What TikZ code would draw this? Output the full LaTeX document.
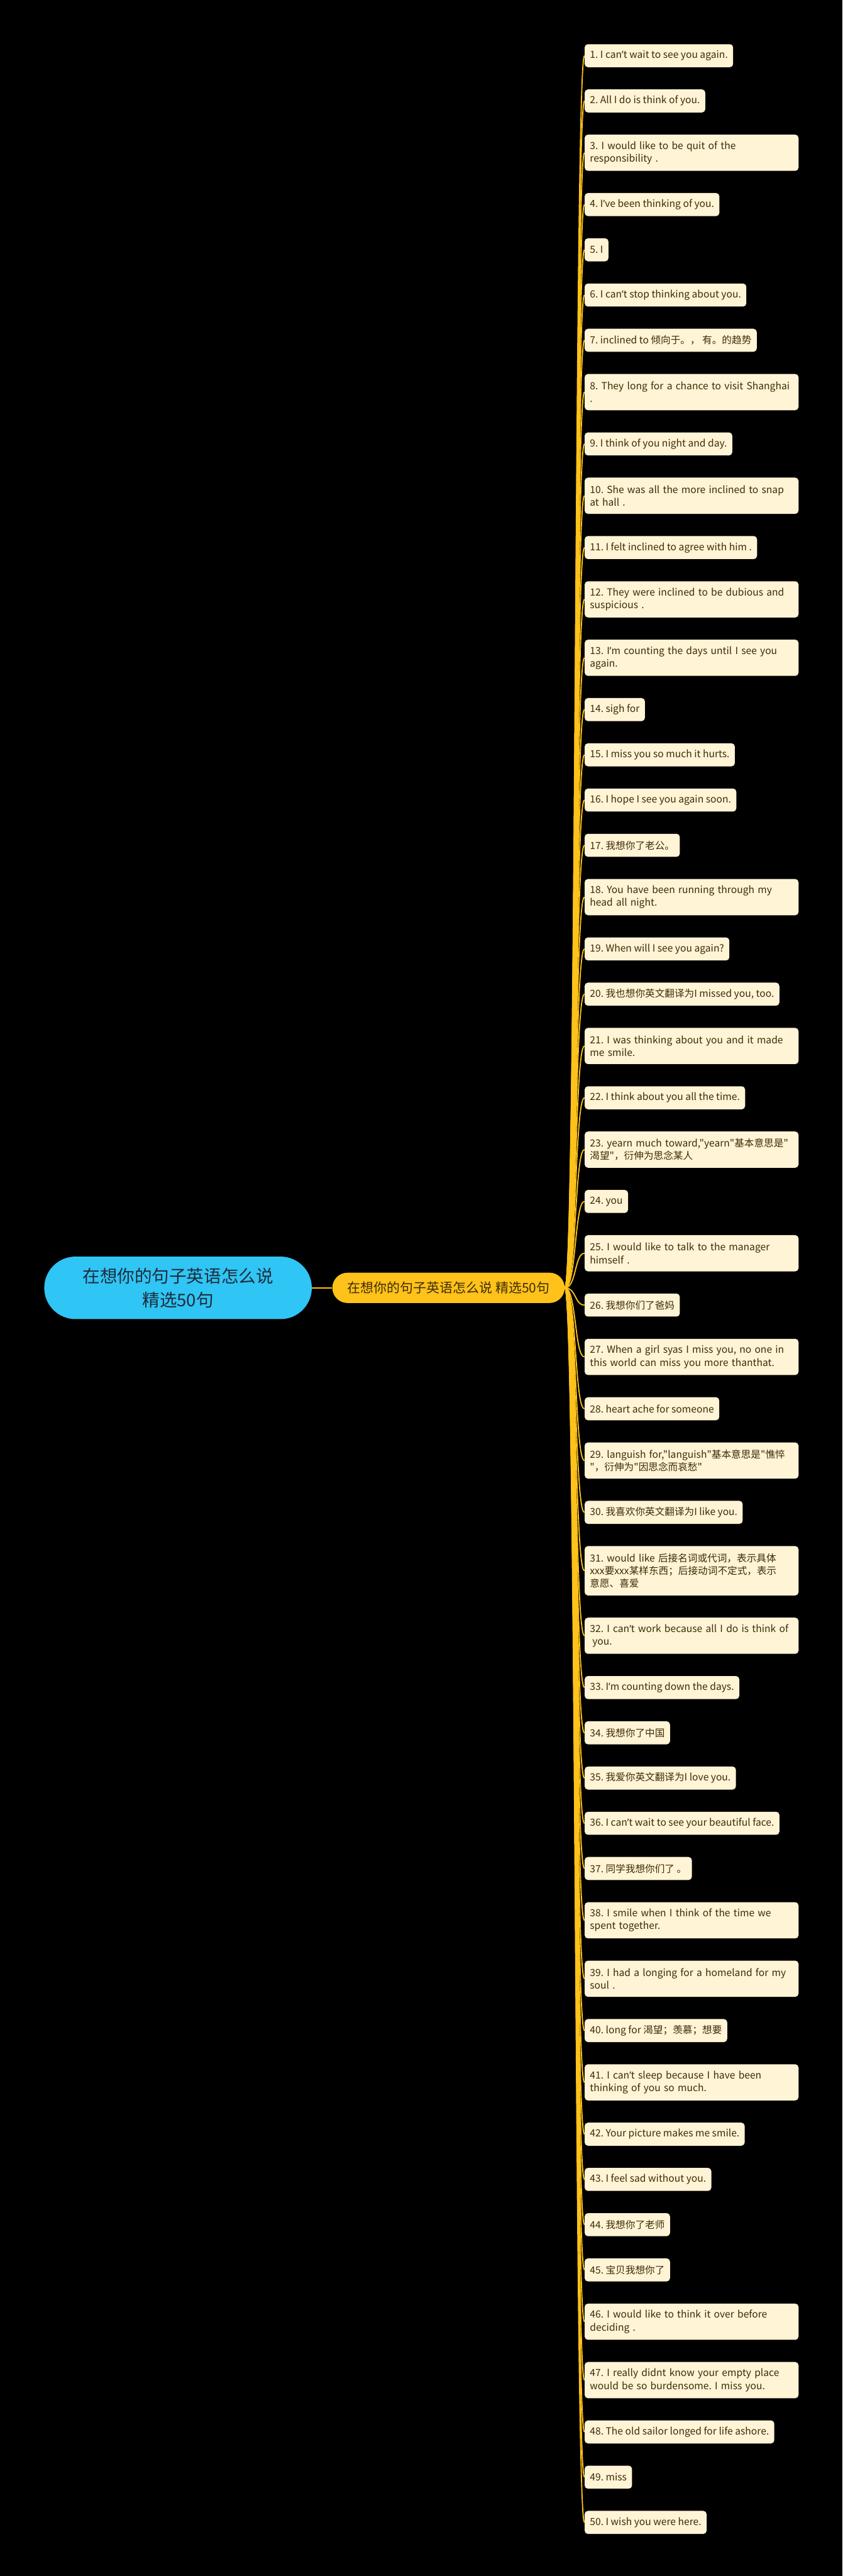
\documentclass[tikz,border=0pt]{standalone}
\usepackage{fontspec}
\setmainfont{Noto Sans CJK SC}[Ligatures=TeXOff]
\newfontfamily\latinfont{Noto Sans}
\usepackage{tikz}

\definecolor{rootblue}{HTML}{2FC5F5}
\definecolor{amber}{HTML}{FFC21A}
\definecolor{cream}{HTML}{FFF4D5}
\definecolor{inkbrown}{HTML}{3D2C08}
\definecolor{inknavy}{HTML}{1E2B39}

% proportional apostrophe
\newcommand{\apo}{{\latinfont ’}}

\begin{document}
\begin{tikzpicture}[
  sentence/.style={fill=cream, text=inkbrown, rounded corners=0.1cm, anchor=north west, inner xsep=0.16cm, inner ysep=0cm, minimum height=0.7cm, align=left, font=\fontsize{8.5pt}{11pt}\selectfont\frenchspacing},
  sentencetwo/.style={sentence, text width=6.18cm, minimum height=1.1cm},
  sentencethree/.style={sentence, text width=6.18cm, minimum height=1.5cm},
  gapbelow/.style={anchor=north west, yshift=-0.66cm},
  twig/.style={draw=amber, line width=0.35mm}]

\useasboundingbox (0,0) rectangle (25.6,-78.25);
\fill[black] (0,0) rectangle (25.6,-78.25);

\node[fill=rootblue, text=inknavy, rounded corners=0.95cm, minimum width=8.13cm, minimum height=1.9cm, align=center, font=\fontsize{15pt}{20.5pt}\selectfont] (root) at (5.41,-39.12) {在想你的句子英语怎么说\\精选50句};
\node[fill=amber, text=inkbrown, rounded corners=0.46cm, minimum width=7.06cm, minimum height=0.92cm, font=\fontsize{11.4pt}{14pt}\selectfont] (mid) at (13.63,-39.12) {在想你的句子英语怎么说 精选50句};
\draw[twig, line width=0.4mm] (root) -- (mid);

% the fifty sentences, top to bottom
\node[sentence] (s1) at (17.76,-1.335) {1. I can\apo t wait to see you again.};
\node[sentence, gapbelow] (s2) at (s1.south west) {2. All I do is think of you.};
\node[sentencetwo, gapbelow] (s3) at (s2.south west) {3. I would like to be quit of the\\responsibility .};
\node[sentence, gapbelow] (s4) at (s3.south west) {4. I\apo ve been thinking of you.};
\node[sentence, gapbelow] (s5) at (s4.south west) {5. I};
\node[sentence, gapbelow] (s6) at (s5.south west) {6. I can\apo t stop thinking about you.};
\node[sentence, gapbelow] (s7) at (s6.south west) {7. inclined to 倾向于。， 有。的趋势};
\node[sentencetwo, gapbelow] (s8) at (s7.south west) {\mbox{8. They long for a chance to visit Shanghai}\\.};
\node[sentence, gapbelow] (s9) at (s8.south west) {9. I think of you night and day.};
\node[sentencetwo, gapbelow] (s10) at (s9.south west) {10. She was all the more inclined to snap\\at hall .};
\node[sentence, gapbelow] (s11) at (s10.south west) {11. I felt inclined to agree with him .};
\node[sentencetwo, gapbelow] (s12) at (s11.south west) {12. They were inclined to be dubious and\\suspicious .};
\node[sentencetwo, gapbelow] (s13) at (s12.south west) {13. I\apo m counting the days until I see you\\again.};
\node[sentence, gapbelow] (s14) at (s13.south west) {14. sigh for};
\node[sentence, gapbelow] (s15) at (s14.south west) {15. I miss you so much it hurts.};
\node[sentence, gapbelow] (s16) at (s15.south west) {16. I hope I see you again soon.};
\node[sentence, gapbelow] (s17) at (s16.south west) {17. 我想你了老公。};
\node[sentencetwo, gapbelow] (s18) at (s17.south west) {18. You have been running through my\\head all night.};
\node[sentence, gapbelow] (s19) at (s18.south west) {19. When will I see you again?};
\node[sentence, gapbelow] (s20) at (s19.south west) {20. 我也想你英文翻译为I missed you, too.};
\node[sentencetwo, gapbelow] (s21) at (s20.south west) {21. I was thinking about you and it made\\me smile.};
\node[sentence, gapbelow] (s22) at (s21.south west) {22. I think about you all the time.};
\node[sentencetwo, gapbelow] (s23) at (s22.south west) {\mbox{23. yearn much toward,"yearn"基本意思是"}\\\mbox{渴望"，衍伸为思念某人}};
\node[sentence, gapbelow] (s24) at (s23.south west) {24. you};
\node[sentencetwo, gapbelow] (s25) at (s24.south west) {25. I would like to talk to the manager\\himself .};
\node[sentence, gapbelow] (s26) at (s25.south west) {26. 我想你们了爸妈};
\node[sentencetwo, gapbelow] (s27) at (s26.south west) {27. When a girl syas I miss you, no one in\\this world can miss you more thanthat.};
\node[sentence, gapbelow] (s28) at (s27.south west) {28. heart ache for someone};
\node[sentencetwo, gapbelow] (s29) at (s28.south west) {\mbox{29. languish for,"languish"基本意思是"憔悴}\\\mbox{"，衍伸为"因思念而哀愁"}};
\node[sentence, gapbelow] (s30) at (s29.south west) {30. 我喜欢你英文翻译为I like you.};
\node[sentencethree, gapbelow] (s31) at (s30.south west) {\mbox{31. would like 后接名词或代词，表示具体}\\\mbox{xxx要xxx某样东西；后接动词不定式，表示}\\意愿、喜爱};
\node[sentencetwo, gapbelow] (s32) at (s31.south west) {\mbox{32. I can\apo t work because all I do is think of}\\\hspace{0.25em}you.};
\node[sentence, gapbelow] (s33) at (s32.south west) {33. I\apo m counting down the days.};
\node[sentence, gapbelow] (s34) at (s33.south west) {34. 我想你了中国};
\node[sentence, gapbelow] (s35) at (s34.south west) {35. 我爱你英文翻译为I love you.};
\node[sentence, gapbelow] (s36) at (s35.south west) {36. I can\apo t wait to see your beautiful face.};
\node[sentence, gapbelow] (s37) at (s36.south west) {37. 同学我想你们了 。};
\node[sentencetwo, gapbelow] (s38) at (s37.south west) {38. I smile when I think of the time we\\spent together.};
\node[sentencetwo, gapbelow] (s39) at (s38.south west) {39. I had a longing for a homeland for my\\soul .};
\node[sentence, gapbelow] (s40) at (s39.south west) {40. long for 渴望；羡慕；想要};
\node[sentencetwo, gapbelow] (s41) at (s40.south west) {41. I can\apo t sleep because I have been\\thinking of you so much.};
\node[sentence, gapbelow] (s42) at (s41.south west) {42. Your picture makes me smile.};
\node[sentence, gapbelow] (s43) at (s42.south west) {43. I feel sad without you.};
\node[sentence, gapbelow] (s44) at (s43.south west) {44. 我想你了老师};
\node[sentence, gapbelow] (s45) at (s44.south west) {45. 宝贝我想你了};
\node[sentencetwo, gapbelow] (s46) at (s45.south west) {46. I would like to think it over before\\deciding .};
\node[sentencetwo, gapbelow] (s47) at (s46.south west) {47. I really didnt know your empty place\\would be so burdensome. I miss you.};
\node[sentence, gapbelow] (s48) at (s47.south west) {48. The old sailor longed for life ashore.};
\node[sentence, gapbelow] (s49) at (s48.south west) {49. miss};
\node[sentence, gapbelow] (s50) at (s49.south west) {50. I wish you were here.};

% curves from the branch to every sentence
\draw[twig] (mid.east) .. controls +(0.35,0) and +(-0.3,0) .. (s1.west);
\draw[twig] (mid.east) .. controls +(0.35,0) and +(-0.3,0) .. (s2.west);
\draw[twig] (mid.east) .. controls +(0.35,0) and +(-0.3,0) .. (s3.west);
\draw[twig] (mid.east) .. controls +(0.35,0) and +(-0.3,0) .. (s4.west);
\draw[twig] (mid.east) .. controls +(0.35,0) and +(-0.3,0) .. (s5.west);
\draw[twig] (mid.east) .. controls +(0.35,0) and +(-0.3,0) .. (s6.west);
\draw[twig] (mid.east) .. controls +(0.35,0) and +(-0.3,0) .. (s7.west);
\draw[twig] (mid.east) .. controls +(0.35,0) and +(-0.3,0) .. (s8.west);
\draw[twig] (mid.east) .. controls +(0.35,0) and +(-0.3,0) .. (s9.west);
\draw[twig] (mid.east) .. controls +(0.35,0) and +(-0.3,0) .. (s10.west);
\draw[twig] (mid.east) .. controls +(0.35,0) and +(-0.3,0) .. (s11.west);
\draw[twig] (mid.east) .. controls +(0.35,0) and +(-0.3,0) .. (s12.west);
\draw[twig] (mid.east) .. controls +(0.35,0) and +(-0.3,0) .. (s13.west);
\draw[twig] (mid.east) .. controls +(0.35,0) and +(-0.3,0) .. (s14.west);
\draw[twig] (mid.east) .. controls +(0.35,0) and +(-0.3,0) .. (s15.west);
\draw[twig] (mid.east) .. controls +(0.35,0) and +(-0.3,0) .. (s16.west);
\draw[twig] (mid.east) .. controls +(0.35,0) and +(-0.3,0) .. (s17.west);
\draw[twig] (mid.east) .. controls +(0.35,0) and +(-0.3,0) .. (s18.west);
\draw[twig] (mid.east) .. controls +(0.35,0) and +(-0.3,0) .. (s19.west);
\draw[twig] (mid.east) .. controls +(0.35,0) and +(-0.3,0) .. (s20.west);
\draw[twig] (mid.east) .. controls +(0.35,0) and +(-0.3,0) .. (s21.west);
\draw[twig] (mid.east) .. controls +(0.35,0) and +(-0.3,0) .. (s22.west);
\draw[twig] (mid.east) .. controls +(0.35,0) and +(-0.3,0) .. (s23.west);
\draw[twig] (mid.east) .. controls +(0.35,0) and +(-0.3,0) .. (s24.west);
\draw[twig] (mid.east) .. controls +(0.35,0) and +(-0.3,0) .. (s25.west);
\draw[twig] (mid.east) .. controls +(0.35,0) and +(-0.3,0) .. (s26.west);
\draw[twig] (mid.east) .. controls +(0.35,0) and +(-0.3,0) .. (s27.west);
\draw[twig] (mid.east) .. controls +(0.35,0) and +(-0.3,0) .. (s28.west);
\draw[twig] (mid.east) .. controls +(0.35,0) and +(-0.3,0) .. (s29.west);
\draw[twig] (mid.east) .. controls +(0.35,0) and +(-0.3,0) .. (s30.west);
\draw[twig] (mid.east) .. controls +(0.35,0) and +(-0.3,0) .. (s31.west);
\draw[twig] (mid.east) .. controls +(0.35,0) and +(-0.3,0) .. (s32.west);
\draw[twig] (mid.east) .. controls +(0.35,0) and +(-0.3,0) .. (s33.west);
\draw[twig] (mid.east) .. controls +(0.35,0) and +(-0.3,0) .. (s34.west);
\draw[twig] (mid.east) .. controls +(0.35,0) and +(-0.3,0) .. (s35.west);
\draw[twig] (mid.east) .. controls +(0.35,0) and +(-0.3,0) .. (s36.west);
\draw[twig] (mid.east) .. controls +(0.35,0) and +(-0.3,0) .. (s37.west);
\draw[twig] (mid.east) .. controls +(0.35,0) and +(-0.3,0) .. (s38.west);
\draw[twig] (mid.east) .. controls +(0.35,0) and +(-0.3,0) .. (s39.west);
\draw[twig] (mid.east) .. controls +(0.35,0) and +(-0.3,0) .. (s40.west);
\draw[twig] (mid.east) .. controls +(0.35,0) and +(-0.3,0) .. (s41.west);
\draw[twig] (mid.east) .. controls +(0.35,0) and +(-0.3,0) .. (s42.west);
\draw[twig] (mid.east) .. controls +(0.35,0) and +(-0.3,0) .. (s43.west);
\draw[twig] (mid.east) .. controls +(0.35,0) and +(-0.3,0) .. (s44.west);
\draw[twig] (mid.east) .. controls +(0.35,0) and +(-0.3,0) .. (s45.west);
\draw[twig] (mid.east) .. controls +(0.35,0) and +(-0.3,0) .. (s46.west);
\draw[twig] (mid.east) .. controls +(0.35,0) and +(-0.3,0) .. (s47.west);
\draw[twig] (mid.east) .. controls +(0.35,0) and +(-0.3,0) .. (s48.west);
\draw[twig] (mid.east) .. controls +(0.35,0) and +(-0.3,0) .. (s49.west);
\draw[twig] (mid.east) .. controls +(0.35,0) and +(-0.3,0) .. (s50.west);
\end{tikzpicture}
\end{document}
